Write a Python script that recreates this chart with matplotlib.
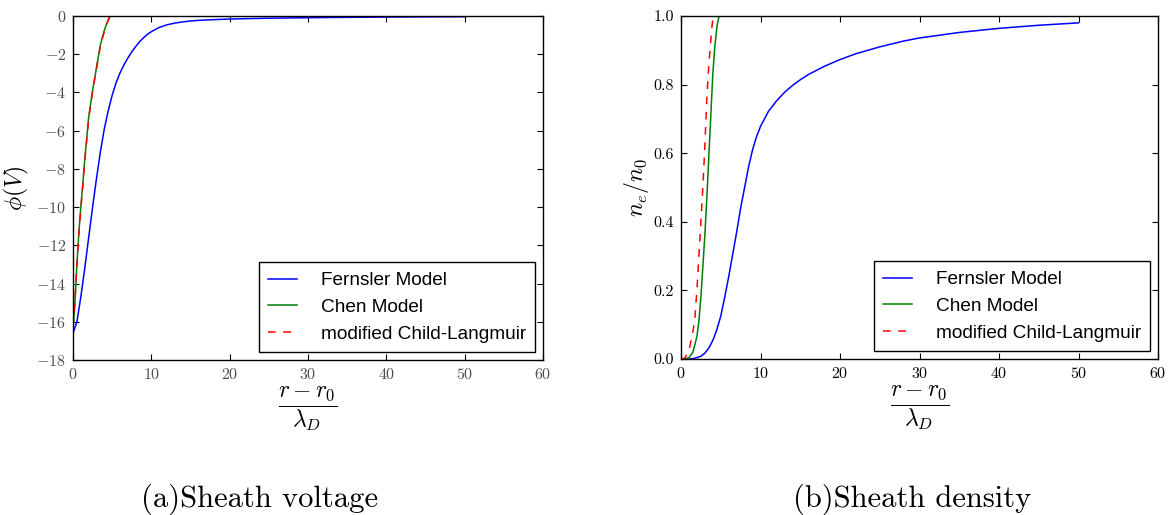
import matplotlib
matplotlib.use("Agg")
import matplotlib.pyplot as plt

plt.rcParams["font.family"] = "cmr10"
plt.rcParams["mathtext.fontset"] = "cm"
plt.rcParams["axes.formatter.use_mathtext"] = True

# (a) sheath voltage
r_fern_v = [0, 0.5, 1, 1.5, 2, 2.5, 3, 3.5, 4, 4.5, 5, 5.5, 6, 6.5, 7, 7.5, 8, 8.5, 9, 9.5, 10,
            11, 12, 13, 14, 15, 16, 18, 20, 22, 25, 30, 35, 40, 45, 50]
v_fern = [-16.6, -16.0, -14.7, -13.2, -11.6, -10.0, -8.5, -7.1, -5.9, -4.95, -4.15, -3.5, -2.98,
          -2.56, -2.2, -1.88, -1.6, -1.35, -1.14, -0.96, -0.82, -0.6, -0.46, -0.37, -0.31, -0.26,
          -0.23, -0.19, -0.16, -0.14, -0.115, -0.09, -0.07, -0.055, -0.045, -0.035]
r_chen_v = [0, 0.25, 0.5, 0.75, 1.0, 1.25, 1.5, 2.0, 2.5, 3.0, 3.5, 4.0, 4.25, 4.5, 4.65, 4.8]
v_chen = [-16.4, -15.0, -13.0, -11.3, -10.0, -8.8, -7.5, -5.3, -3.9, -2.7, -1.5, -0.75, -0.45,
          -0.2, -0.08, 0.0]
r_cl_v = [0, 0.25, 0.5, 0.75, 1.0, 1.25, 1.5, 2.0, 2.5, 3.0, 3.5, 4.0, 4.25, 4.5, 4.65, 4.75]
v_cl = [-16.3, -14.9, -13.0, -11.4, -10.1, -8.9, -7.6, -5.4, -3.95, -2.75, -1.55, -0.8, -0.48,
        -0.22, -0.08, 0.0]

# (b) sheath density
r_fern_n = [0, 1, 1.5, 2, 2.5, 3, 3.5, 4, 4.5, 5, 5.5, 6, 6.5, 7, 7.5, 8, 8.5, 9, 9.5, 10,
            11, 12, 13, 14, 15, 16, 18, 20, 22, 25, 28, 30, 35, 40, 45, 50]
n_fern = [0.0, 0.0, 0.001, 0.004, 0.008, 0.017, 0.032, 0.054, 0.085, 0.125, 0.18, 0.24, 0.305,
          0.37, 0.44, 0.5, 0.56, 0.61, 0.648, 0.678, 0.722, 0.752, 0.777, 0.797, 0.814, 0.829,
          0.853, 0.873, 0.89, 0.91, 0.927, 0.936, 0.952, 0.964, 0.973, 0.98]
r_chen_n = [0, 0.5, 1.0, 1.5, 2.0, 2.25, 2.5, 2.75, 3.0, 3.25, 3.5, 3.75, 4.0, 4.25, 4.5, 4.65, 4.8]
n_chen = [0.0, 0.0, 0.004, 0.02, 0.065, 0.11, 0.18, 0.27, 0.36, 0.47, 0.59, 0.71, 0.83, 0.91,
          0.965, 0.985, 1.0]
r_cl_n = [0, 0.5, 1.0, 1.5, 1.75, 2.0, 2.25, 2.5, 2.75, 3.0, 3.25, 3.5, 3.75, 3.9, 4.05]
n_cl = [0.0, 0.003, 0.025, 0.08, 0.12, 0.2, 0.3, 0.4, 0.5, 0.62, 0.76, 0.86, 0.93, 0.97, 1.0]

labels = ["Fernsler Model", "Chen Model", "modified Child-Langmuir"]
xticks = [0, 10, 20, 30, 40, 50, 60]

fig = plt.figure(figsize=(11.68, 5.15), dpi=100)
ax1 = fig.add_axes([73 / 1168, 155 / 515, 470 / 1168, 344 / 515])
ax2 = fig.add_axes([681 / 1168, 156 / 515, 477 / 1168, 343 / 515])

ax1.plot(r_fern_v, v_fern, color="b", lw=1.1, label=labels[0])
ax1.plot(r_chen_v, v_chen, color="g", lw=1.1, label=labels[1])
ax1.plot(r_cl_v, v_cl, color="r", lw=1.1, dashes=(5, 5), label=labels[2])
ax1.set_ylim(-18, 0)
ax1.set_yticks(range(-18, 1, 2))
ax1.set_ylabel(r"$\phi(V)$", fontsize=17, labelpad=4)

ax2.plot(r_fern_n, n_fern, color="b", lw=1.1, label=labels[0])
ax2.plot(r_chen_n, n_chen, color="g", lw=1.1, label=labels[1])
ax2.plot(r_cl_n, n_cl, color="r", lw=1.1, dashes=(5, 5), label=labels[2])
ax2.set_ylim(0, 1.0)
ax2.set_yticks([0.0, 0.2, 0.4, 0.6, 0.8, 1.0])
ax2.set_yticklabels(["0.0", "0.2", "0.4", "0.6", "0.8", "1.0"])
ax2.set_ylabel(r"$n_e/n_0$", fontsize=17, labelpad=2)

for ax, tc in [(ax1, "0.3"), (ax2, "black")]:
    ax.set_xlim(0, 60)
    ax.set_xticks(xticks)
    ax.set_xlabel(r"$\dfrac{r-r_0}{\lambda_D}$", fontsize=17, labelpad=2)
    ax.tick_params(direction="in", top=True, right=True, length=4.5, width=0.8,
                   labelsize=11.5, labelcolor=tc, pad=5)
    for s in ax.spines.values():
        s.set_linewidth(1.0)
    leg = ax.legend(loc="lower right", prop={"family": "Liberation Sans", "size": 13.7},
                    fancybox=False, framealpha=1, edgecolor="black", borderpad=0.5,
                    labelspacing=0.5, handlelength=1.5, handletextpad=1.25, borderaxespad=0.4)
    leg.get_frame().set_linewidth(1.0)

fig.text(260 / 1168, 8 / 515, "(a)Sheath voltage", fontsize=22, ha="center", va="baseline")
fig.text(912 / 1168, 8 / 515, "(b)Sheath density", fontsize=22, ha="center", va="baseline")

fig.savefig("out.png", dpi=100)
